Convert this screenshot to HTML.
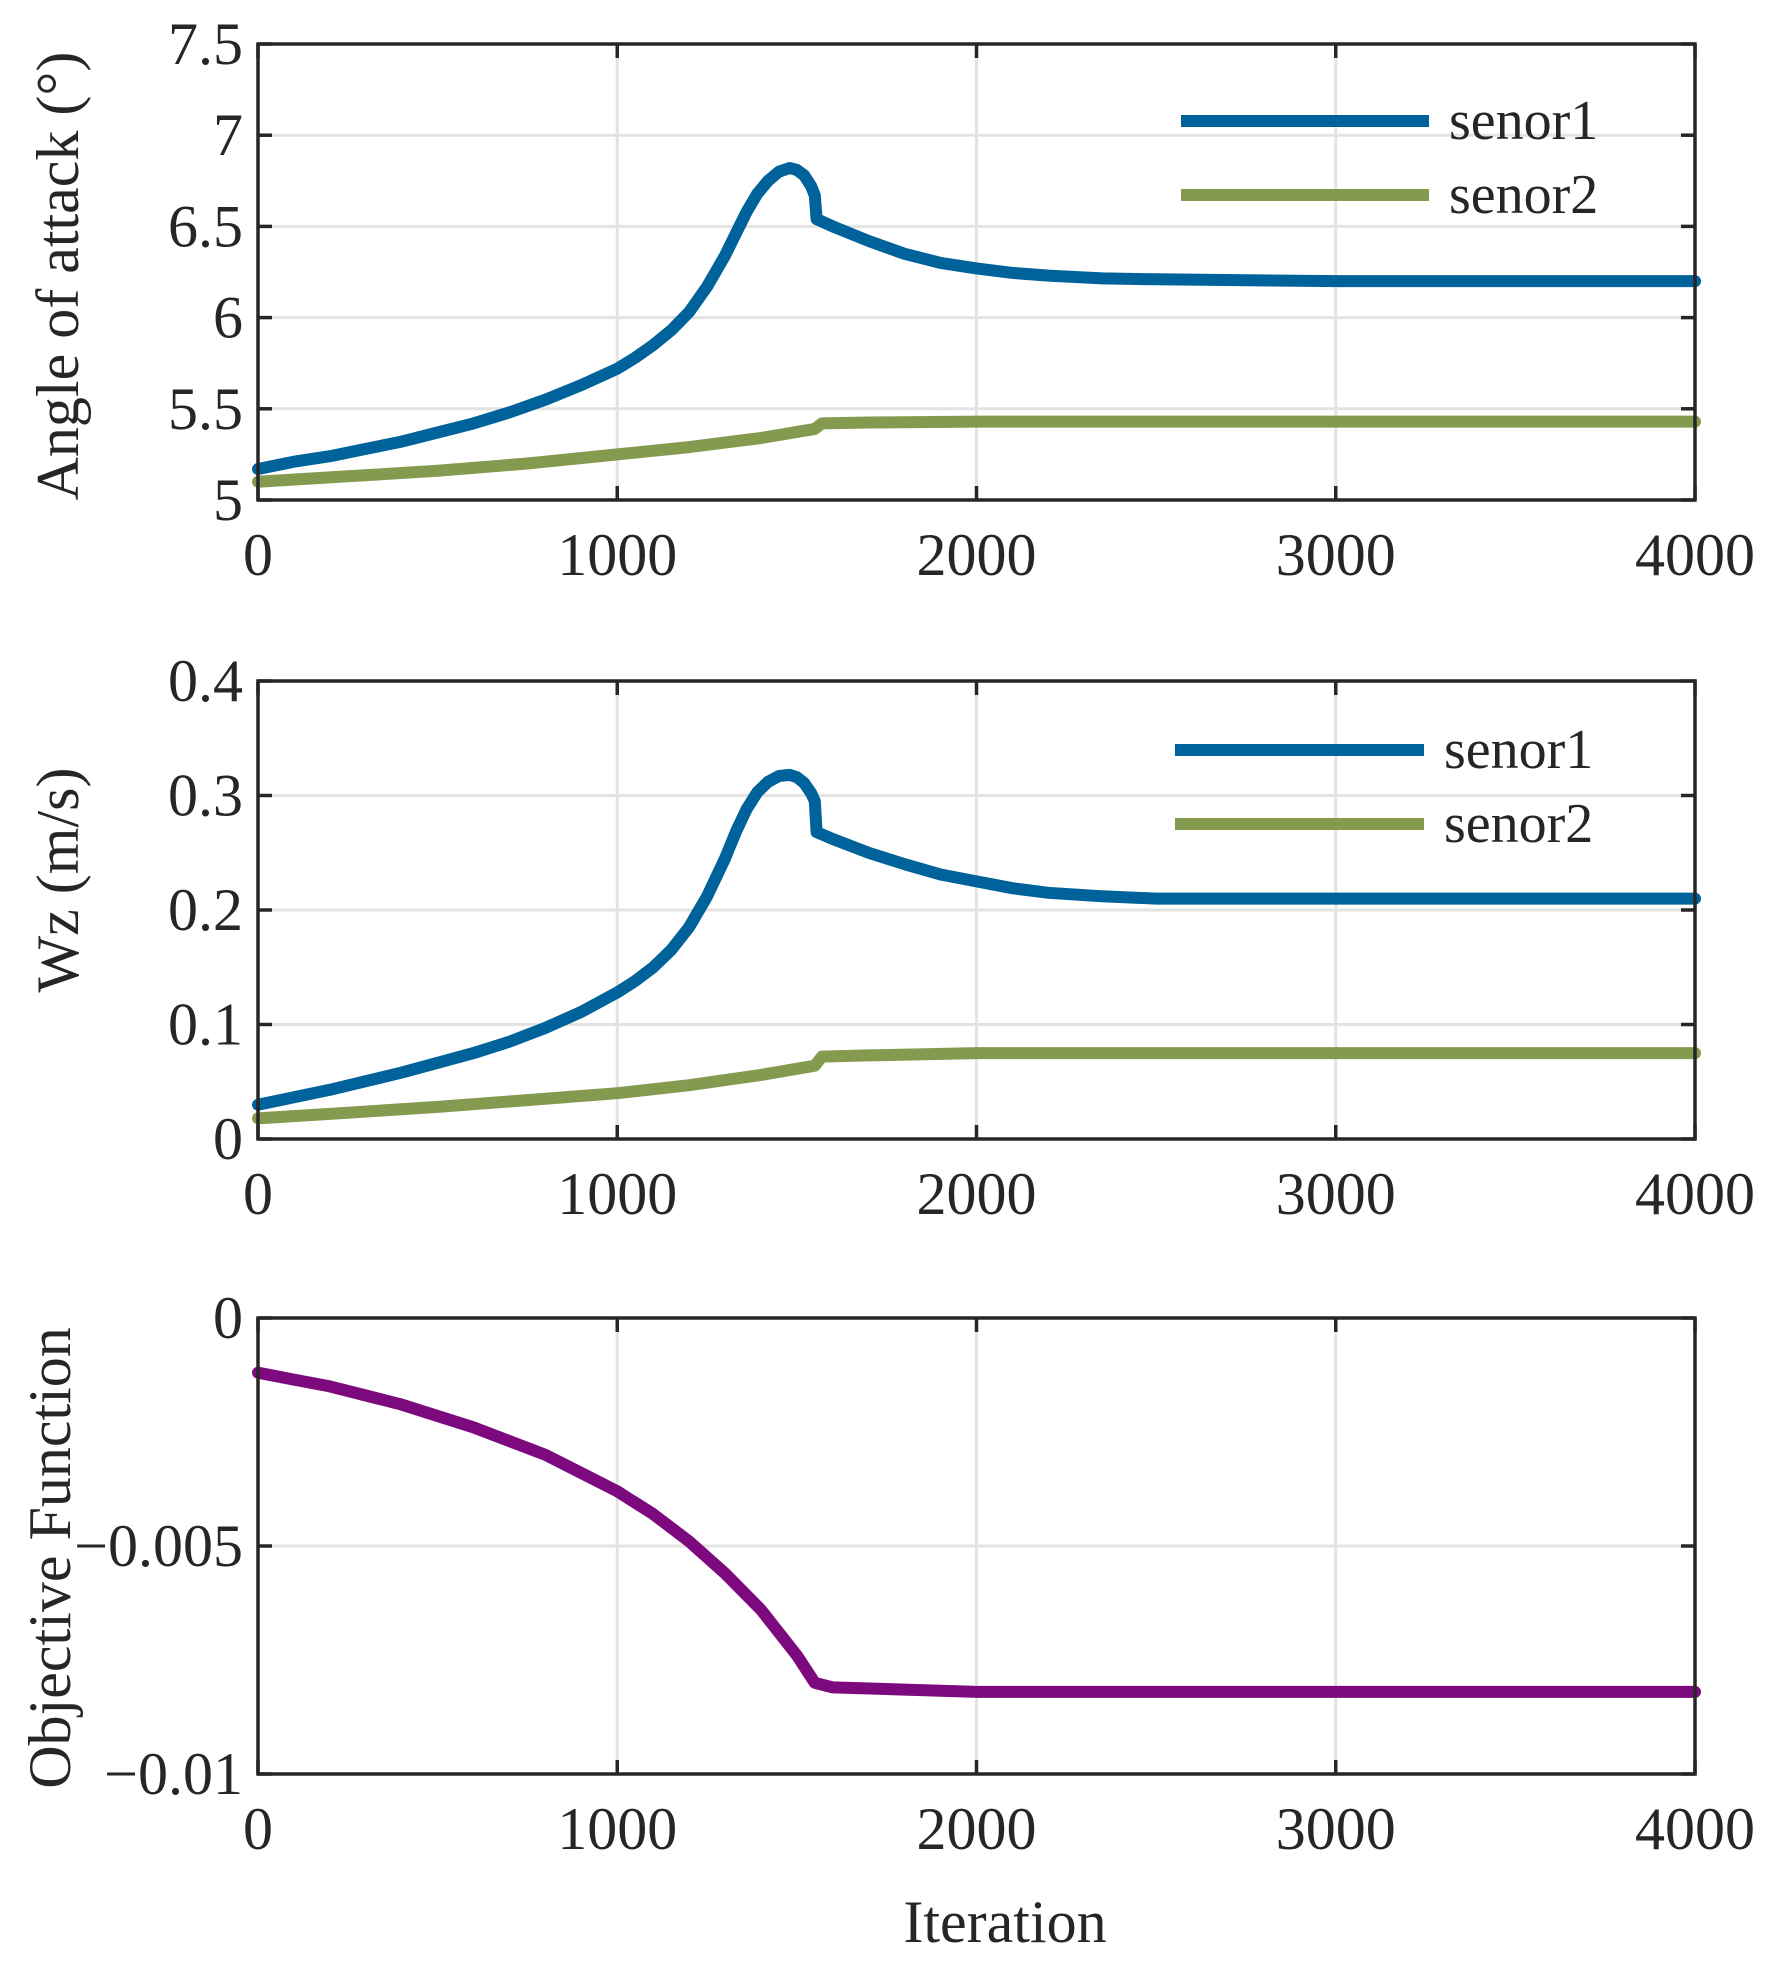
<!DOCTYPE html>
<html><head><meta charset="utf-8"><style>
html,body{margin:0;padding:0;background:#fff;}
svg{display:block;font-family:"Liberation Serif",serif;}
</style></head><body>
<svg id="chart" width="1777" height="1969" viewBox="0 0 1777 1969" xmlns="http://www.w3.org/2000/svg"></svg>
<script>
const xTicks=[0,1000,2000,3000,4000];
const p1Ticks=[5,5.5,6,6.5,7,7.5];
const p1TickLabels=["5","5.5","6","6.5","7","7.5"];
const p2Ticks=[0,0.1,0.2,0.3,0.4];
const p2TickLabels=["0","0.1","0.2","0.3","0.4"];
const p3Ticks=[-0.01,-0.005,0];
const p3TickLabels=["\u22120.01","\u22120.005","0"];
const aoaX=[0,100,200,300,400,500,600,700,800,900,1000,1050,1100,1150,1200,1250,1300,1330,1360,1390,1420,1450,1480,1500,1520,1540,1550,1555,1600,1700,1800,1900,2000,2100,2200,2350,2500,3000,4000];
const aoaS1=[5.17,5.21,5.24,5.28,5.32,5.37,5.42,5.48,5.55,5.63,5.72,5.78,5.85,5.93,6.03,6.17,6.34,6.46,6.58,6.68,6.75,6.80,6.82,6.81,6.78,6.72,6.67,6.54,6.50,6.42,6.35,6.30,6.27,6.245,6.23,6.215,6.21,6.20,6.20];
const aoaX2=[0,250,500,750,1000,1200,1400,1550,1570,1700,2000,4000];
const aoaS2=[5.10,5.13,5.16,5.20,5.25,5.29,5.34,5.39,5.42,5.425,5.43,5.43];
const wzX=[0,200,400,600,700,800,900,1000,1050,1100,1150,1200,1250,1300,1330,1360,1390,1420,1450,1480,1500,1520,1540,1550,1555,1600,1700,1800,1900,2000,2100,2200,2350,2500,4000];
const wzS1=[0.030,0.043,0.058,0.075,0.085,0.097,0.111,0.128,0.138,0.150,0.165,0.185,0.212,0.245,0.268,0.288,0.303,0.312,0.317,0.318,0.316,0.311,0.302,0.295,0.268,0.262,0.250,0.240,0.231,0.225,0.219,0.215,0.212,0.210,0.210];
const wzX2=[0,250,500,750,1000,1200,1400,1550,1570,1700,2000,4000];
const wzS2=[0.018,0.023,0.028,0.034,0.040,0.047,0.056,0.064,0.072,0.073,0.075,0.075];
const objX=[0,100,200,300,400,500,600,700,800,900,1000,1100,1200,1300,1400,1500,1550,1600,1800,2000,4000];
const objV=[-0.0012,-0.00135,-0.0015,-0.0017,-0.0019,-0.00215,-0.0024,-0.0027,-0.0030,-0.0034,-0.0038,-0.0043,-0.0049,-0.0056,-0.0064,-0.0074,-0.0080,-0.0081,-0.00815,-0.0082,-0.0082];

const NS="http://www.w3.org/2000/svg";
const svg=document.getElementById('chart');
const X0=258,X1=1695;
function sx(v){return X0+(v-0)/(4000-0)*(X1-X0);}
function mk(tag,attrs,parent){const e=document.createElementNS(NS,tag);for(const k in attrs)e.setAttribute(k,attrs[k]);(parent||svg).appendChild(e);return e;}
const BLUE="#00629b",GREEN="#849a4e",PURPLE="#7c0a7e";

function panel(name,top,bot,ymin,ymax,yt,ytl,series,legend){
  const g=mk('g',{});
  
  
  const sy=v=>bot-(v-ymin)/(ymax-ymin)*(bot-top);
  xTicks.forEach(t=>{const l=mk('line',{x1:sx(t),x2:sx(t),y1:top,y2:bot,stroke:'#e3e3e3','stroke-width':3},g);
    });
  yt.forEach(t=>{const l=mk('line',{x1:X0,x2:X1,y1:sy(t),y2:sy(t),stroke:'#e3e3e3','stroke-width':3},g);
    });
  series.forEach(s=>{
    const d=s.x.map((v,i)=>(i?'L':'M')+sx(v).toFixed(1)+','+sy(s.y[i]).toFixed(1)).join('');
    const p=mk('path',{d:d,fill:'none',stroke:s.c,'stroke-width':12,'stroke-linejoin':'round','stroke-linecap':'round'},g);
    
    
  });
  const r=mk('rect',{x:X0,y:top,width:X1-X0,height:bot-top,fill:'none',stroke:'#262626','stroke-width':3.5},g);
  
  xTicks.forEach(t=>{
    mk('line',{x1:sx(t),x2:sx(t),y1:bot,y2:bot-14,stroke:'#262626','stroke-width':3.5},g);
    mk('line',{x1:sx(t),x2:sx(t),y1:top,y2:top+14,stroke:'#262626','stroke-width':3.5},g);
    const tx=mk('text',{x:sx(t),y:bot+75,'text-anchor':'middle','font-size':60,fill:'#262626'},g);
    tx.textContent=t;
    
  });
  yt.forEach((t,i)=>{
    mk('line',{x1:X0,x2:X0+14,y1:sy(t),y2:sy(t),stroke:'#262626','stroke-width':3.5},g);
    mk('line',{x1:X1,x2:X1-14,y1:sy(t),y2:sy(t),stroke:'#262626','stroke-width':3.5},g);
    const tx=mk('text',{x:X0-15,y:sy(t)+20,'text-anchor':'end','font-size':60,fill:'#262626'},g);
    tx.textContent=ytl[i];
    
  });
  if(legend){
    legend.forEach(L=>{
      const ln=mk('line',{x1:L.x1,x2:L.x2,y1:L.y,y2:L.y,stroke:L.c,'stroke-width':12},g);
      
      const tx=mk('text',{x:L.x2+20,y:L.y+18,'font-size':56,fill:'#262626'},g);
      tx.textContent=L.t;
      
    });
  }
}
panel('angle-of-attack',44,500,5,7.5,p1Ticks,p1TickLabels,
  [{x:aoaX,y:aoaS1,c:BLUE,n:'aoa-senor1-line'},{x:aoaX2,y:aoaS2,c:GREEN,n:'aoa-senor2-line'}],
  [{x1:1181,x2:1429,y:121,c:BLUE,t:'senor1'},{x1:1181,x2:1429,y:195,c:GREEN,t:'senor2'}]);
panel('wz',681,1139,0,0.4,p2Ticks,p2TickLabels,
  [{x:wzX,y:wzS1,c:BLUE,n:'wz-senor1-line'},{x:wzX2,y:wzS2,c:GREEN,n:'wz-senor2-line'}],
  [{x1:1175,x2:1424,y:750,c:BLUE,t:'senor1'},{x1:1175,x2:1424,y:824,c:GREEN,t:'senor2'}]);
panel('objective',1318,1774,-0.01,0,p3Ticks,p3TickLabels,
  [{x:objX,y:objV,c:PURPLE,n:'objective-line'}],null);

function label(txt,x,y,rot,name){
  const t=mk('text',{x:x,y:y,'text-anchor':'middle','font-size':60,fill:'#262626',transform:rot?`rotate(-90 ${x} ${y})`:''});
  t.textContent=txt;
  
  
}
label('Angle of attack (°)',78,276,true,'y-axis-title-angle');
label('Wz (m/s)',78,880,true,'y-axis-title-wz');
label('Objective Function',70,1558,true,'y-axis-title-objective');
label('Iteration',1005,1942,false,'x-axis-title');
</script>
</body></html>
